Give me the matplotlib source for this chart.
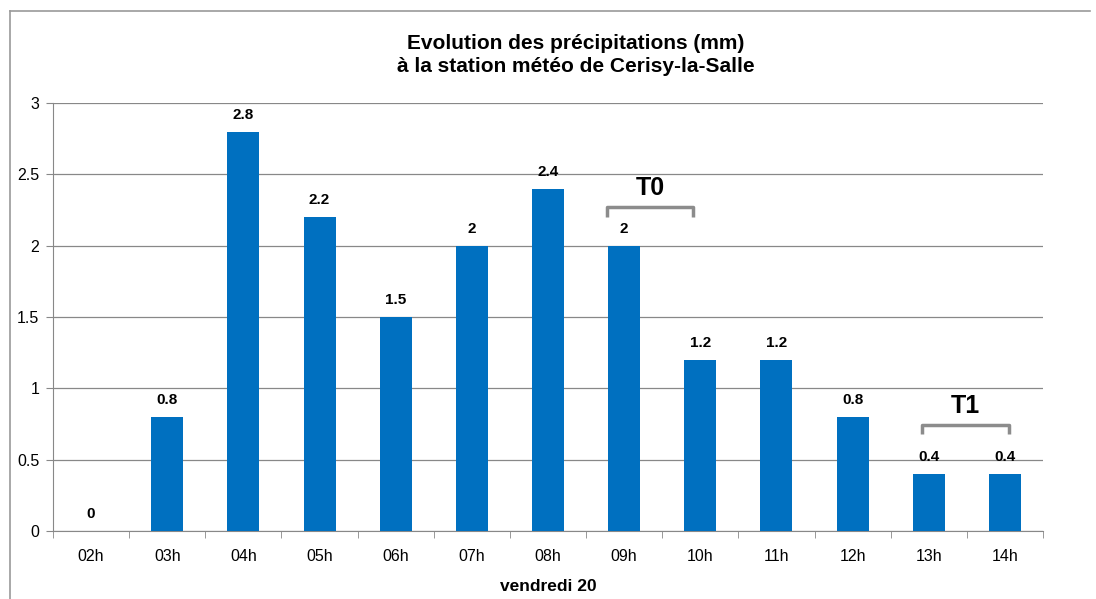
import matplotlib.pyplot as plt
from matplotlib.lines import Line2D

plt.rcParams['font.family'] = ['Liberation Sans', 'DejaVu Sans']

hours = ["02h", "03h", "04h", "05h", "06h", "07h", "08h",
         "09h", "10h", "11h", "12h", "13h", "14h"]
rain_mm = [0, 0.8, 2.8, 2.2, 1.5, 2, 2.4, 2, 1.2, 1.2, 0.8, 0.4, 0.4]
value_labels = ["0", "0.8", "2.8", "2.2", "1.5", "2", "2.4",
                "2", "1.2", "1.2", "0.8", "0.4", "0.4"]

fig = plt.figure(figsize=(10.96, 5.99), dpi=100)
ax = fig.add_axes([0.0484, 0.1135, 0.9032, 0.7145])

x = range(len(hours))
ax.bar(x, rain_mm, width=0.42, color="#0070C0", zorder=3)

for i, (v, lab) in enumerate(zip(rain_mm, value_labels)):
    ax.text(i, v + 0.07, lab, ha="center", va="bottom",
            fontsize=11, fontweight="bold", zorder=4)

ax.set_xlim(-0.5, len(hours) - 0.5)
ax.set_ylim(0, 3)
ax.set_yticks([0, 0.5, 1, 1.5, 2, 2.5, 3])
ax.set_yticklabels(["0", "0.5", "1", "1.5", "2", "2.5", "3"])
ax.yaxis.grid(True, color="#888888", linewidth=0.9, zorder=0)

# category ticks sit between the bars
ax.set_xticks(list(x))
ax.set_xticklabels(hours)
ax.set_xticks([i - 0.5 for i in range(len(hours) + 1)], minor=True)
ax.tick_params(axis="x", which="major", length=0, labelsize=11.5, pad=13)
ax.tick_params(axis="x", which="minor", length=5, color="#888888")
ax.tick_params(axis="y", length=5, color="#888888", labelsize=11.5, pad=5)

for side in ("top", "right"):
    ax.spines[side].set_visible(False)
for side in ("left", "bottom"):
    ax.spines[side].set_color("#888888")

ax.set_xlabel("vendredi 20", fontsize=12.5, fontweight="bold", labelpad=11)
fig.text(576 / 1096, 1 - 55 / 599,
         "Evolution des précipitations (mm)\nà la station météo de Cerisy-la-Salle",
         ha="center", va="center", fontsize=15, fontweight="bold",
         linespacing=1.25)


def bracket(x0, x1, y, drop, label):
    ax.plot([x0, x0, x1, x1], [y - drop, y, y, y - drop],
            color="#8c8c8c", linewidth=2.5, solid_capstyle="butt", zorder=5)
    ax.text((x0 + x1) / 2, y + 0.05, label, ha="center", va="bottom",
            fontsize=18, fontweight="bold", zorder=5)


bracket(6.78, 7.9, 2.27, 0.07, "T0")
bracket(10.91, 12.05, 0.74, 0.06, "T1")

# chart area border
fig.add_artist(Line2D([10 / 1096, 1090 / 1096], [1 - 11 / 599, 1 - 11 / 599],
                      transform=fig.transFigure, color="#9a9a9a", linewidth=1.2))
fig.add_artist(Line2D([10 / 1096, 10 / 1096], [0, 1 - 11 / 599],
                      transform=fig.transFigure, color="#9a9a9a", linewidth=1.2))

fig.savefig("out.png", dpi=100)
